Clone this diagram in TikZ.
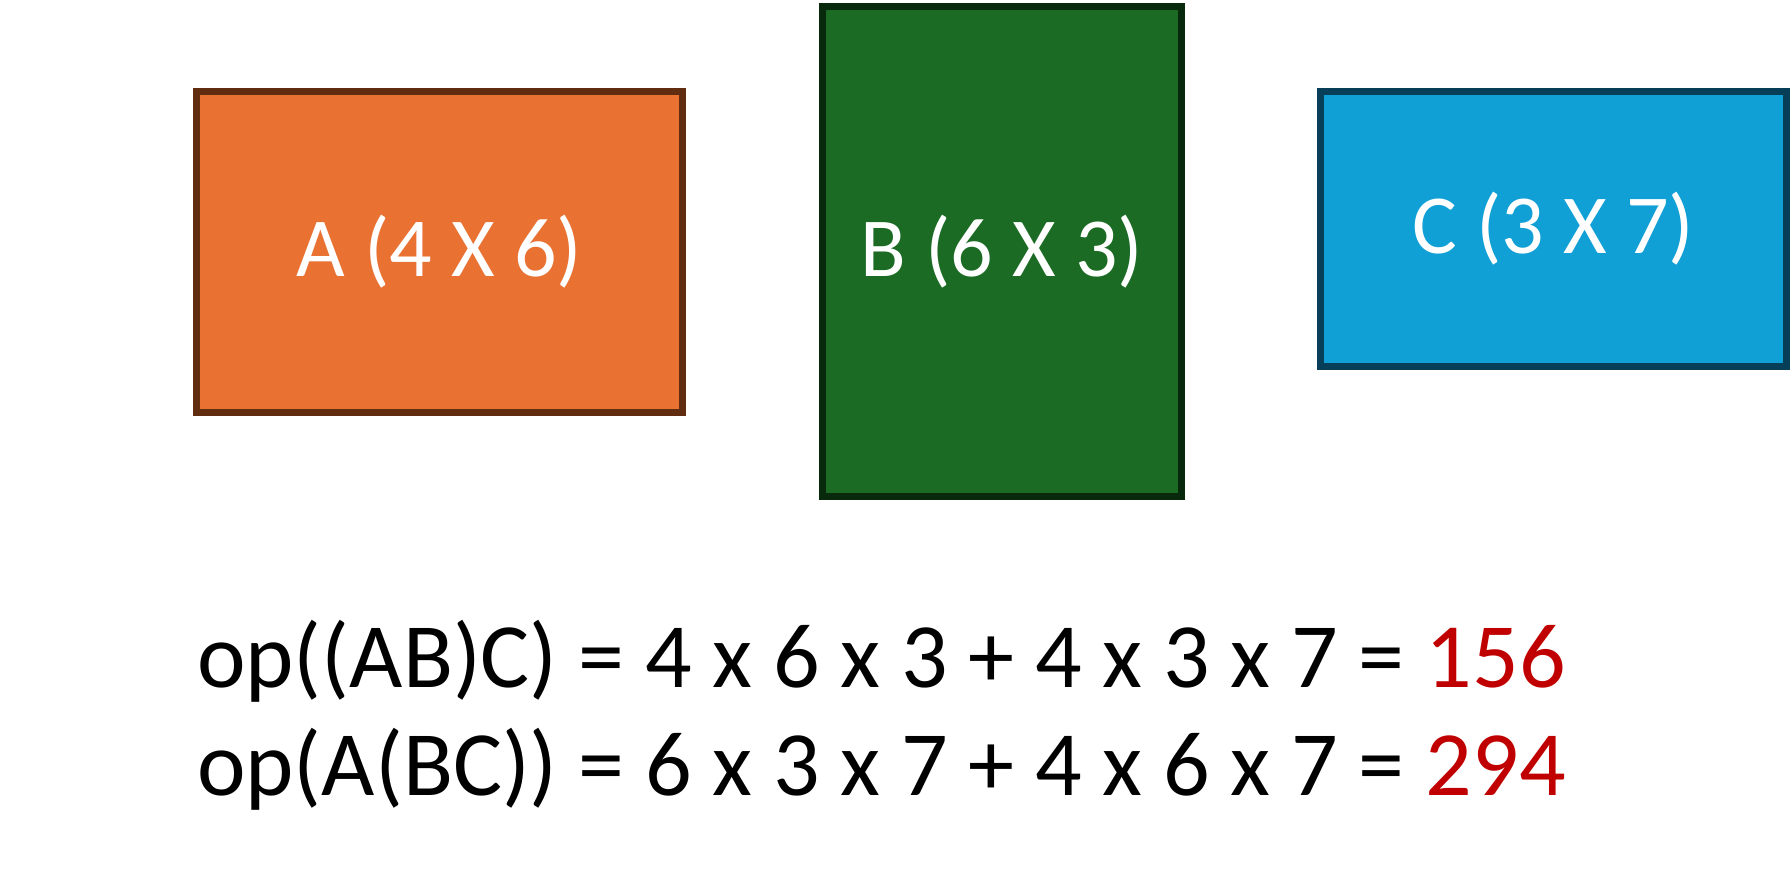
\documentclass[tikz,border=0pt]{standalone}
\usepackage{fontspec}
\setmainfont{Carlito}
\definecolor{afill}{HTML}{E97132}
\definecolor{aline}{HTML}{612D10}
\definecolor{bfill}{HTML}{1B6B24}
\definecolor{bline}{HTML}{08290C}
\definecolor{cfill}{HTML}{10A0D6}
\definecolor{cline}{HTML}{063F57}
\definecolor{resred}{HTML}{C00000}
\begin{document}
\begin{tikzpicture}[x=1pt,y=1pt,
    matbox/.style={draw, line width=7pt, inner sep=0pt, text=white,
      font=\fontsize{84}{100}\selectfont},
    eqline/.style={anchor=base west, inner sep=0pt,
      font=\fontsize{92}{110}\selectfont}]
        \useasboundingbox (0,0) rectangle (1792,-880);
        \path (439.5,-252)  node[matbox, fill=afill, draw=aline, minimum width=486, minimum height=321] (A) {A (4 X 6)}
              (1002,-251.5) node[matbox, fill=bfill, draw=bline, minimum width=359, minimum height=490] (B) {B (6 X 3)}
              (1553.5,-229) node[matbox, fill=cfill, draw=cline, minimum width=466, minimum height=275] (C) {C (3 X 7)};
        \path (197,-687) node[eqline] (opABC) {op((AB)C) = 4 x 6 x 3 + 4 x 3 x 7 = {\color{resred}156}}
              (197,-795) node[eqline] (opBCA) {op(A(BC)) = 6 x 3 x 7 + 4 x 6 x 7 = {\color{resred}294}};
      \end{tikzpicture}
\end{document}
